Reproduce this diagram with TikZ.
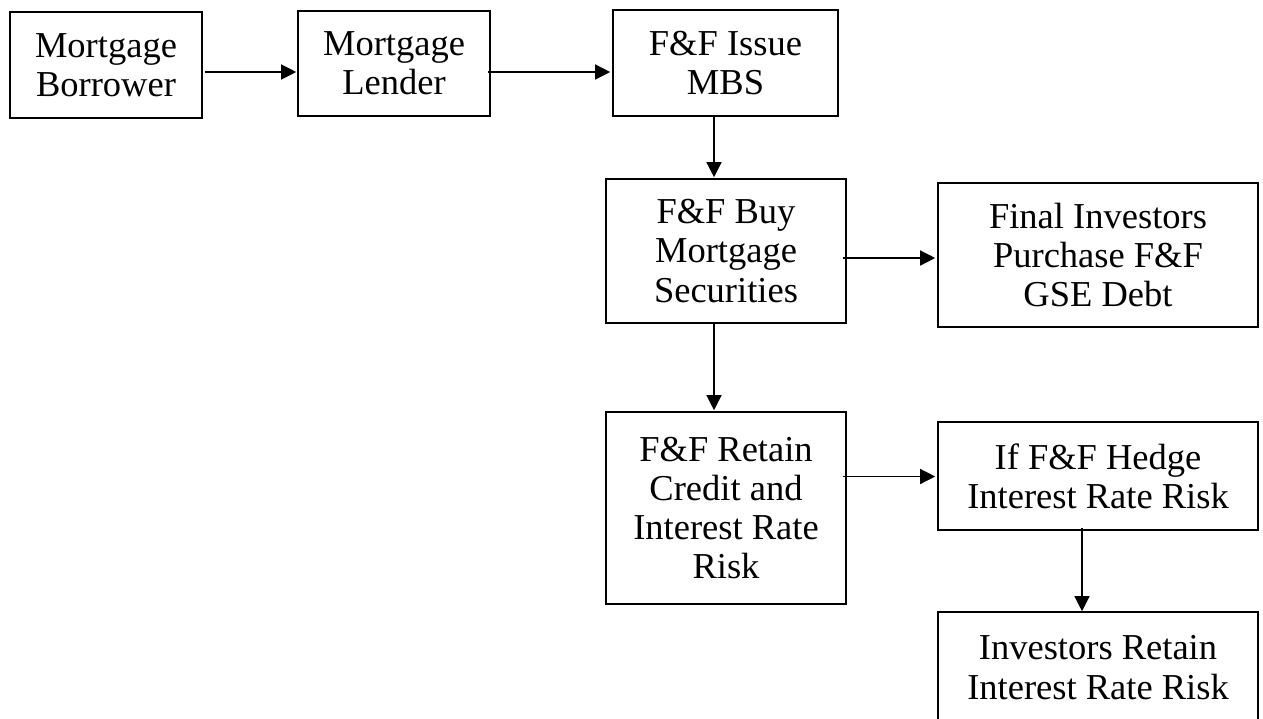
\documentclass[tikz,border=0pt]{standalone}
\usepackage{fontspec}
\setmainfont{Liberation Serif}
\usetikzlibrary{arrows.meta}
\tikzset{
  box/.style={draw, line width=1.6pt, inner sep=0pt, align=center,
    font=\fontsize{36.5}{39.3}\selectfont},
  arr/.style={line width=1.3pt, -{Triangle[length=15pt,width=15pt]}}
}
\begin{document}
\begin{tikzpicture}[x=1pt,y=-1pt]
\useasboundingbox (0,0) rectangle (1263,718);
\clip (0,0) rectangle (1263,718);
\node[box, minimum width=192pt, minimum height=106pt] (borrower) at (106,65) {Mortgage\\Borrower};
\node[box, minimum width=192pt, minimum height=105pt] (lender) at (394,63.5) {Mortgage\\Lender};
\node[box, minimum width=225pt, minimum height=106pt] (issue) at (725.5,63) {F\&F Issue\\MBS};
\node[box, minimum width=240pt, minimum height=144pt] (buy) at (726,251) {F\&F Buy\\Mortgage\\Securities};
\node[box, minimum width=320pt, minimum height=144pt] (final) at (1098,255) {Final Investors\\Purchase F\&F\\GSE Debt};
\node[box, minimum width=240pt, minimum height=192pt] (retain) at (726,508) {F\&F Retain\\Credit and\\Interest Rate\\Risk};
\node[box, minimum width=320pt, minimum height=108pt] (hedge) at (1098,476) {If F\&F Hedge\\Interest Rate Risk};
\node[box, minimum width=320pt, minimum height=111pt] (investors) at (1098,667.5) {Investors Retain\\Interest Rate Risk};

\draw[arr] ([shift={(2,7)}]borrower.east) -- ([shift={(-1,8.5)}]lender.west);
\draw[arr] ([shift={(-3,8.5)}]lender.east) -- ([shift={(-2,9)}]issue.west);
\draw[arr] ([shift={(-11.5,0)}]issue.south) -- ([shift={(-12,-1)}]buy.north);
\draw[arr] ([shift={(-4,7)}]buy.east) -- ([shift={(-2,3)}]final.west);
\draw[arr] ([shift={(-12,0)}]buy.south) -- ([shift={(-12,-1)}]retain.north);
\draw[arr] ([shift={(-4,-31.5)}]retain.east) -- ([shift={(-2,0.5)}]hedge.west);
\draw[arr] ([shift={(-16,-3)}]hedge.south) -- ([shift={(-16,0)}]investors.north);
\end{tikzpicture}
\end{document}
